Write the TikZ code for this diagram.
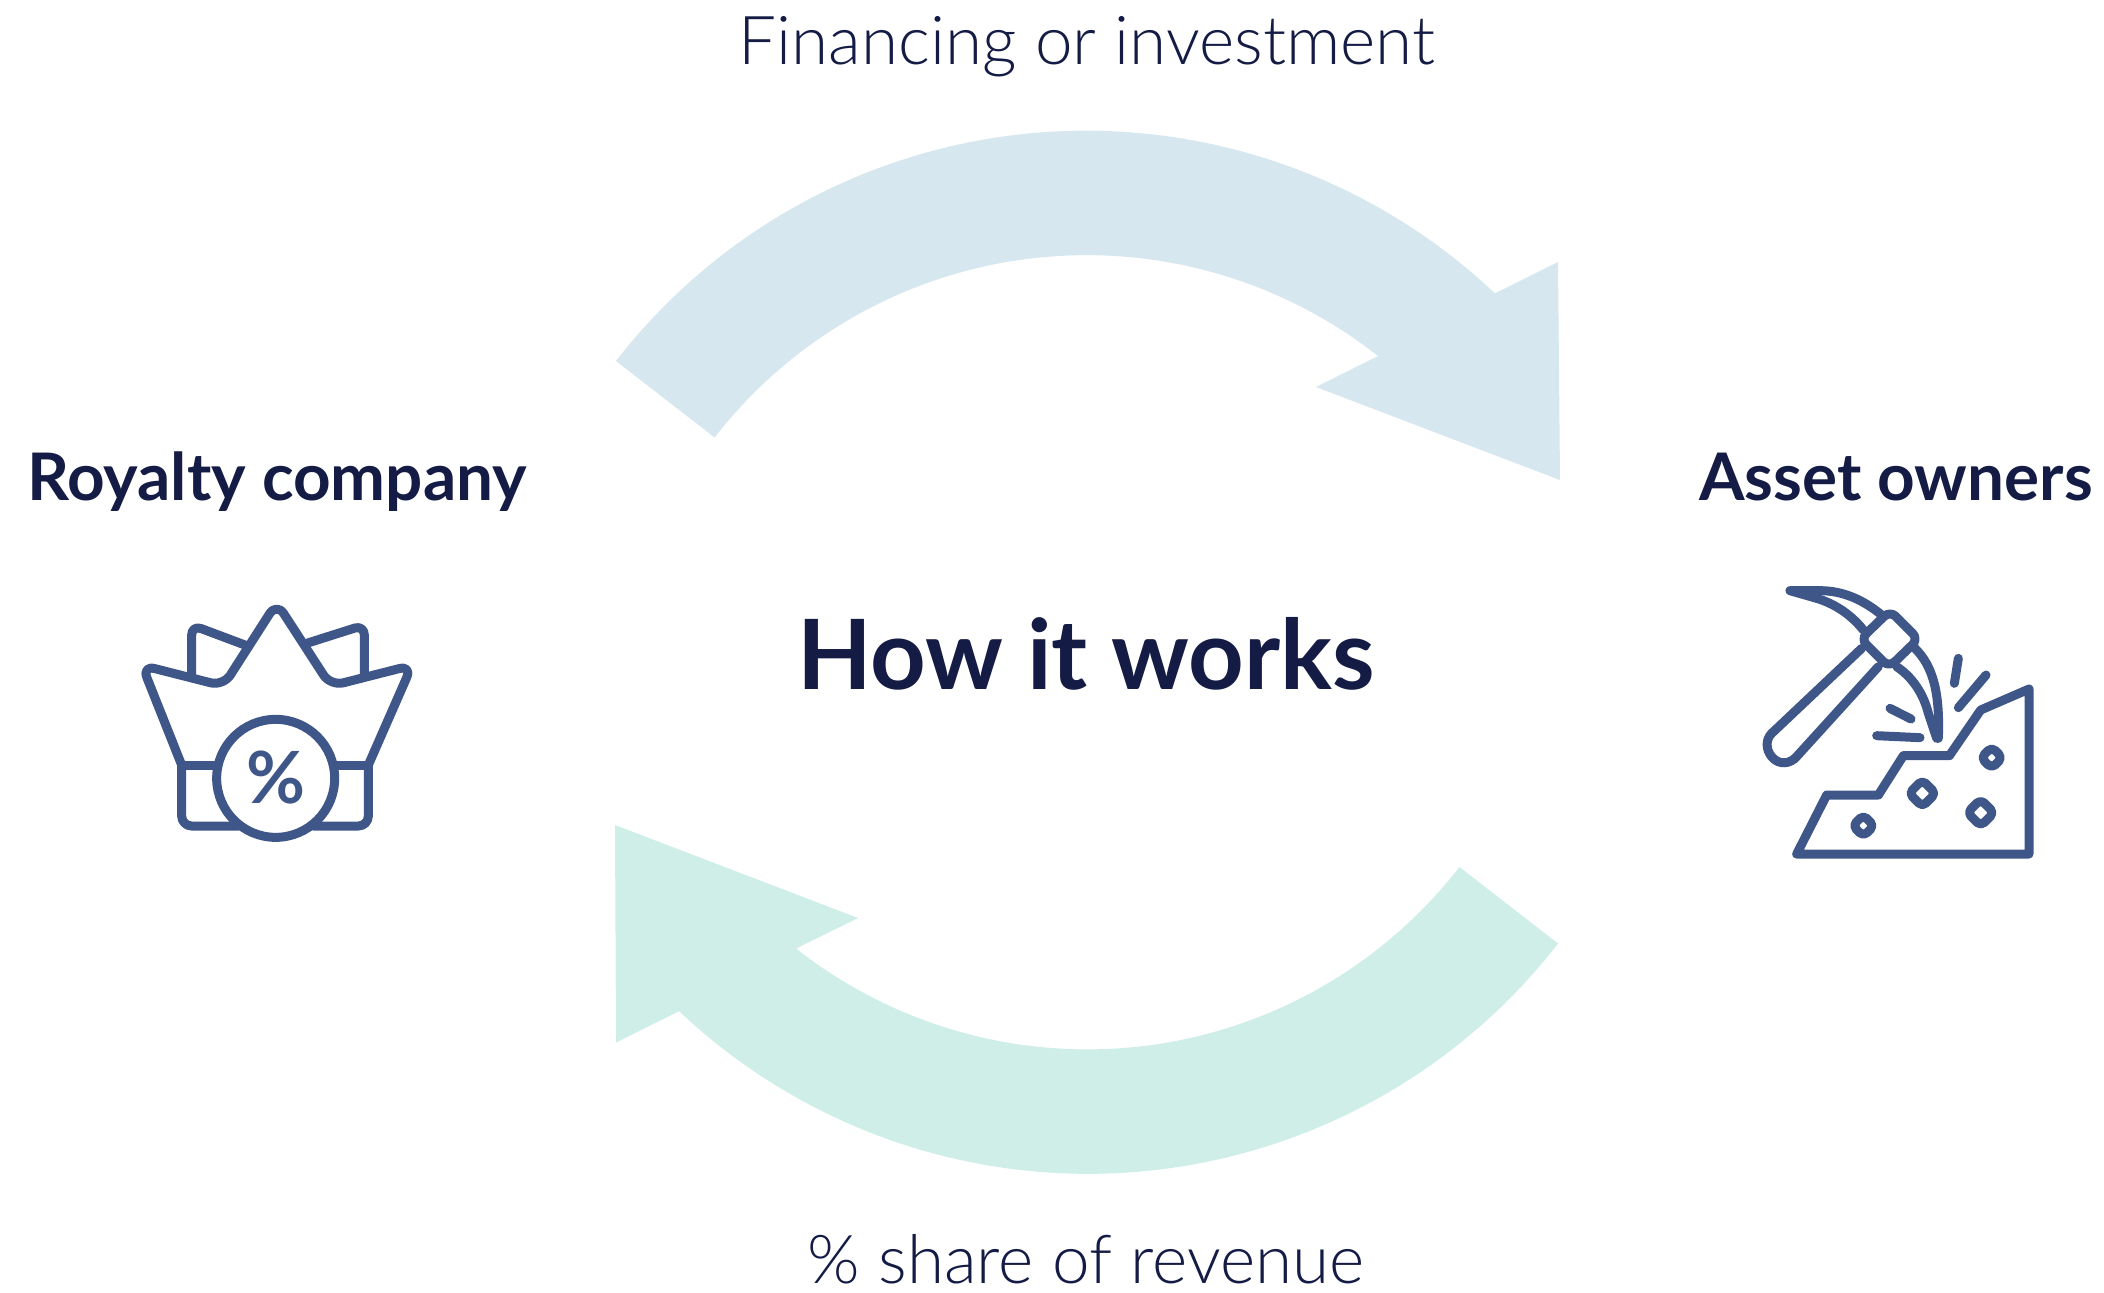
\documentclass[tikz,border=0pt]{standalone}
\usepackage{fontspec}
\setmainfont{Lato}
\newfontfamily\lightfont{Lato Light}
\definecolor{inkc}{HTML}{141B45}
\definecolor{iconc}{HTML}{3F5689}
\definecolor{topc}{HTML}{D6E7EF}
\definecolor{botc}{HTML}{CEEEE7}
\begin{document}
\begin{tikzpicture}[x=0.5pt,y=-0.5pt,
  flowlabel/.style={inkc,anchor=base,font=\lightfont\fontsize{33.7}{40}\selectfont,inner sep=0},
  party/.style={inkc,anchor=base,font=\bfseries\fontsize{32.8}{40}\selectfont,inner sep=0},
  title/.style={inkc,anchor=base,font=\bfseries\fontsize{48.5}{58}\selectfont,inner sep=0},
  icon/.style={iconc,line width=4.5pt,line cap=round,line join=round},
  zoomA/.style={shift={(120,590)},x=0.16667pt,y=-0.16667pt},
  zoomB/.style={shift={(1740,570)},x=0.16667pt,y=-0.16667pt}]
\useasboundingbox (0,0) rectangle (2104,1292);
\fill[white] (0,0) rectangle (2104,1292);
% arrows
\coordinate (ts) at (616,361);
\coordinate (is) at (1378,356);
\fill[topc] (ts) arc[start angle=142.2,end angle=46.6,radius=297.5pt]
  -- (1558,262) -- (1560,480) -- (1316,387) -- (is)
  arc[start angle=51.8,end angle=142.2,radius=235.5pt] -- cycle;
\coordinate (bs) at (1558,943.5);
\coordinate (bi) at (796,948.5);
\fill[botc] (bs) arc[start angle=322.2,end angle=226.6,radius=297.5pt]
  -- (616,1042.5) -- (615,825) -- (858,918) -- (bi)
  arc[start angle=231.8,end angle=322.2,radius=235.5pt] -- cycle;
% text
\node[flowlabel] (fin) at (1087,64) {Financing or investment};
\node[flowlabel] (share) at (1086,1283) {\% share of revenue};
\node[party] (roy) at (277,500) {Royalty company};
\node[party] (own) at (1896,500) {Asset owners};
\node[title] (how) at (1086,689) {How it works};
% crown
\begin{scope}[zoomA]
\draw[icon,rounded corners=6.5pt] (185,525) -- (66,226) -- (310,288) -- (470,38) -- (632,288) -- (876,226) -- (745,525);
\draw[icon] (185,525) -- (290,525) (645,525) -- (745,525);
\draw[icon,rounded corners=5pt] (185,525) -- (185,708) -- (355,708);
\draw[icon,rounded corners=5pt] (745,525) -- (745,708) -- (580,708);
\draw[icon,rounded corners=5pt] (215,255) -- (215,105) -- (375,165);
\draw[icon,rounded corners=5pt] (733,250) -- (733,105) -- (560,160);
\draw[icon] (467,565) circle[radius=29.5pt];
\node[iconc,inner sep=0,font=\bfseries\fontsize{36}{40}\selectfont] (pct) at (468,563) {\%};
\end{scope}
% pick and hill
\begin{scope}[zoomB]
\draw[icon] (365,235) -- (95,490) .. controls (55,530) and (110,610) .. (165,565) -- (415,290);
\draw[icon,rounded corners=4pt] (450,122) -- (535,207) -- (447,292) -- (362,207) -- cycle;
\draw[icon] (150,62) -- (240,62) .. controls (310,62) and (370,90) .. (425,135);
\draw[icon] (150,62) -- (230,85) .. controls (280,100) and (330,130) .. (370,180);
\draw[icon] (525,235) .. controls (580,290) and (600,370) .. (595,505);
\draw[icon] (470,290) .. controls (530,330) and (555,390) .. (565,430) -- (590,505);
\draw[icon] (655,265) -- (643,340);
\draw[icon] (738,315) -- (655,413);
\draw[icon] (450,415) -- (513,447);
\draw[icon] (410,497) -- (540,503);
\draw[icon] (170,852) -- (260,675) -- (415,675) -- (490,557) -- (628,557) -- (722,420) -- (867,357) -- (867,852) -- cycle;
\foreach \cx/\cy/\r in {370/767/32,547/670/40,722/728/40,755/563/32}{
  \draw[icon,rounded corners=2.5pt] (\cx-\r,\cy) -- (\cx,\cy-\r) -- (\cx+\r,\cy) -- (\cx,\cy+\r) -- cycle;
}
\end{scope}
\end{tikzpicture}
\end{document}
